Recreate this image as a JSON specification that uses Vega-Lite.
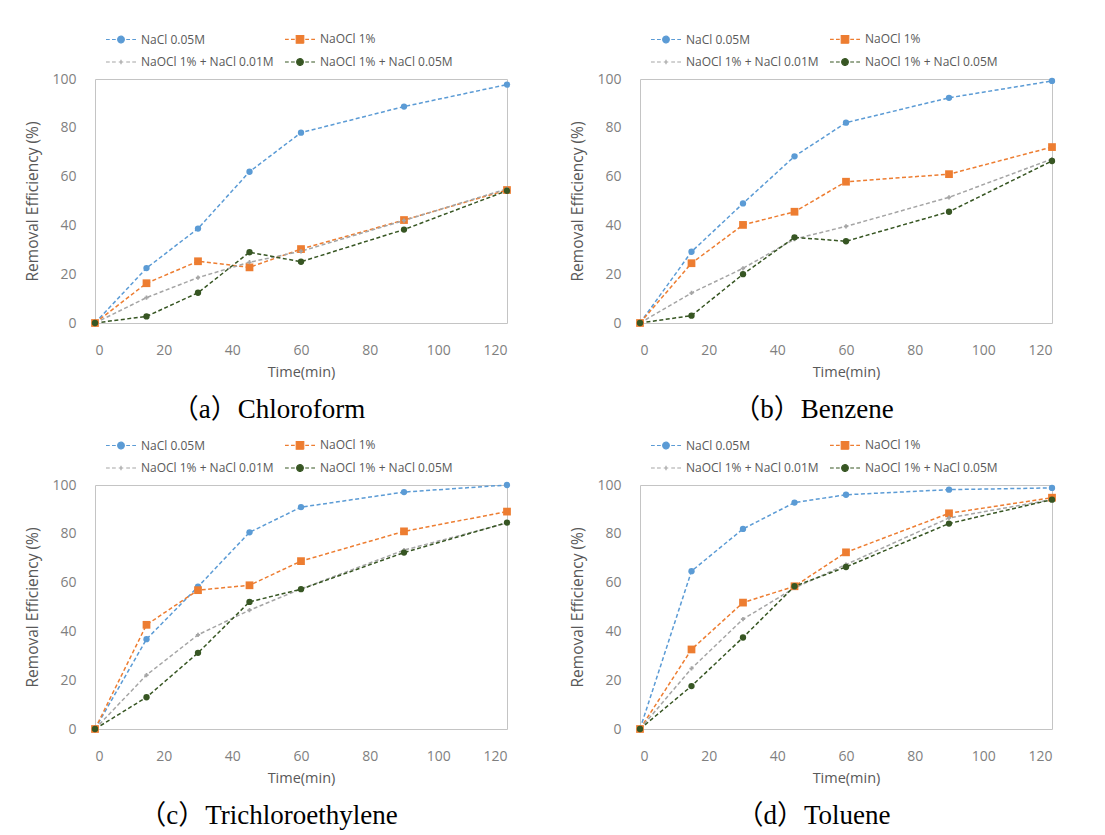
{
  "$schema": "https://vega.github.io/schema/vega-lite/v6.json",
  "padding": {"left": 25, "top": 22, "right": 5, "bottom": 5},
  "background": "white",
  "data": {"values": [
    {"p":"a","s":"NaCl 0.05M","t":0,"v":0},{"p":"a","s":"NaCl 0.05M","t":15,"v":22.5},{"p":"a","s":"NaCl 0.05M","t":30,"v":38.7},{"p":"a","s":"NaCl 0.05M","t":45,"v":62},{"p":"a","s":"NaCl 0.05M","t":60,"v":78},{"p":"a","s":"NaCl 0.05M","t":90,"v":88.7},{"p":"a","s":"NaCl 0.05M","t":120,"v":97.7},
    {"p":"a","s":"NaOCl 1%","t":0,"v":0},{"p":"a","s":"NaOCl 1%","t":15,"v":16.3},{"p":"a","s":"NaOCl 1%","t":30,"v":25.3},{"p":"a","s":"NaOCl 1%","t":45,"v":22.8},{"p":"a","s":"NaOCl 1%","t":60,"v":30.3},{"p":"a","s":"NaOCl 1%","t":90,"v":42.2},{"p":"a","s":"NaOCl 1%","t":120,"v":54.5},
    {"p":"a","s":"NaOCl 1% + NaCl 0.01M","t":0,"v":0},{"p":"a","s":"NaOCl 1% + NaCl 0.01M","t":15,"v":10.4},{"p":"a","s":"NaOCl 1% + NaCl 0.01M","t":30,"v":18.6},{"p":"a","s":"NaOCl 1% + NaCl 0.01M","t":45,"v":24.9},{"p":"a","s":"NaOCl 1% + NaCl 0.01M","t":60,"v":29.4},{"p":"a","s":"NaOCl 1% + NaCl 0.01M","t":90,"v":42},{"p":"a","s":"NaOCl 1% + NaCl 0.01M","t":120,"v":55},
    {"p":"a","s":"NaOCl 1% + NaCl 0.05M","t":0,"v":0},{"p":"a","s":"NaOCl 1% + NaCl 0.05M","t":15,"v":2.7},{"p":"a","s":"NaOCl 1% + NaCl 0.05M","t":30,"v":12.4},{"p":"a","s":"NaOCl 1% + NaCl 0.05M","t":45,"v":29},{"p":"a","s":"NaOCl 1% + NaCl 0.05M","t":60,"v":25.1},{"p":"a","s":"NaOCl 1% + NaCl 0.05M","t":90,"v":38.3},{"p":"a","s":"NaOCl 1% + NaCl 0.05M","t":120,"v":54.2},
    {"p":"b","s":"NaCl 0.05M","t":0,"v":0},{"p":"b","s":"NaCl 0.05M","t":15,"v":29.2},{"p":"b","s":"NaCl 0.05M","t":30,"v":49},{"p":"b","s":"NaCl 0.05M","t":45,"v":68.3},{"p":"b","s":"NaCl 0.05M","t":60,"v":82.1},{"p":"b","s":"NaCl 0.05M","t":90,"v":92.3},{"p":"b","s":"NaCl 0.05M","t":120,"v":99.2},
    {"p":"b","s":"NaOCl 1%","t":0,"v":0},{"p":"b","s":"NaOCl 1%","t":15,"v":24.5},{"p":"b","s":"NaOCl 1%","t":30,"v":40.2},{"p":"b","s":"NaOCl 1%","t":45,"v":45.6},{"p":"b","s":"NaOCl 1%","t":60,"v":57.9},{"p":"b","s":"NaOCl 1%","t":90,"v":61},{"p":"b","s":"NaOCl 1%","t":120,"v":72.1},
    {"p":"b","s":"NaOCl 1% + NaCl 0.01M","t":0,"v":0},{"p":"b","s":"NaOCl 1% + NaCl 0.01M","t":15,"v":12.3},{"p":"b","s":"NaOCl 1% + NaCl 0.01M","t":30,"v":22.4},{"p":"b","s":"NaOCl 1% + NaCl 0.01M","t":45,"v":34.4},{"p":"b","s":"NaOCl 1% + NaCl 0.01M","t":60,"v":39.6},{"p":"b","s":"NaOCl 1% + NaCl 0.01M","t":90,"v":51.5},{"p":"b","s":"NaOCl 1% + NaCl 0.01M","t":120,"v":67.2},
    {"p":"b","s":"NaOCl 1% + NaCl 0.05M","t":0,"v":0},{"p":"b","s":"NaOCl 1% + NaCl 0.05M","t":15,"v":3},{"p":"b","s":"NaOCl 1% + NaCl 0.05M","t":30,"v":20},{"p":"b","s":"NaOCl 1% + NaCl 0.05M","t":45,"v":35.1},{"p":"b","s":"NaOCl 1% + NaCl 0.05M","t":60,"v":33.5},{"p":"b","s":"NaOCl 1% + NaCl 0.05M","t":90,"v":45.6},{"p":"b","s":"NaOCl 1% + NaCl 0.05M","t":120,"v":66.4},
    {"p":"c","s":"NaCl 0.05M","t":0,"v":0},{"p":"c","s":"NaCl 0.05M","t":15,"v":36.8},{"p":"c","s":"NaCl 0.05M","t":30,"v":58.3},{"p":"c","s":"NaCl 0.05M","t":45,"v":80.6},{"p":"c","s":"NaCl 0.05M","t":60,"v":90.9},{"p":"c","s":"NaCl 0.05M","t":90,"v":97.1},{"p":"c","s":"NaCl 0.05M","t":120,"v":100},
    {"p":"c","s":"NaOCl 1%","t":0,"v":0},{"p":"c","s":"NaOCl 1%","t":15,"v":42.7},{"p":"c","s":"NaOCl 1%","t":30,"v":56.9},{"p":"c","s":"NaOCl 1%","t":45,"v":58.9},{"p":"c","s":"NaOCl 1%","t":60,"v":68.8},{"p":"c","s":"NaOCl 1%","t":90,"v":81},{"p":"c","s":"NaOCl 1%","t":120,"v":89.1},
    {"p":"c","s":"NaOCl 1% + NaCl 0.01M","t":0,"v":0},{"p":"c","s":"NaOCl 1% + NaCl 0.01M","t":15,"v":22.1},{"p":"c","s":"NaOCl 1% + NaCl 0.01M","t":30,"v":38.6},{"p":"c","s":"NaOCl 1% + NaCl 0.01M","t":45,"v":48.7},{"p":"c","s":"NaOCl 1% + NaCl 0.01M","t":60,"v":57.4},{"p":"c","s":"NaOCl 1% + NaCl 0.01M","t":90,"v":73.3},{"p":"c","s":"NaOCl 1% + NaCl 0.01M","t":120,"v":84.4},
    {"p":"c","s":"NaOCl 1% + NaCl 0.05M","t":0,"v":0},{"p":"c","s":"NaOCl 1% + NaCl 0.05M","t":15,"v":13},{"p":"c","s":"NaOCl 1% + NaCl 0.05M","t":30,"v":31.2},{"p":"c","s":"NaOCl 1% + NaCl 0.05M","t":45,"v":52.1},{"p":"c","s":"NaOCl 1% + NaCl 0.05M","t":60,"v":57.3},{"p":"c","s":"NaOCl 1% + NaCl 0.05M","t":90,"v":72.3},{"p":"c","s":"NaOCl 1% + NaCl 0.05M","t":120,"v":84.6},
    {"p":"d","s":"NaCl 0.05M","t":0,"v":0},{"p":"d","s":"NaCl 0.05M","t":15,"v":64.7},{"p":"d","s":"NaCl 0.05M","t":30,"v":82},{"p":"d","s":"NaCl 0.05M","t":45,"v":92.8},{"p":"d","s":"NaCl 0.05M","t":60,"v":96},{"p":"d","s":"NaCl 0.05M","t":90,"v":98.1},{"p":"d","s":"NaCl 0.05M","t":120,"v":98.8},
    {"p":"d","s":"NaOCl 1%","t":0,"v":0},{"p":"d","s":"NaOCl 1%","t":15,"v":32.6},{"p":"d","s":"NaOCl 1%","t":30,"v":51.8},{"p":"d","s":"NaOCl 1%","t":45,"v":58.5},{"p":"d","s":"NaOCl 1%","t":60,"v":72.4},{"p":"d","s":"NaOCl 1%","t":90,"v":88.4},{"p":"d","s":"NaOCl 1%","t":120,"v":94.8},
    {"p":"d","s":"NaOCl 1% + NaCl 0.01M","t":0,"v":0},{"p":"d","s":"NaOCl 1% + NaCl 0.01M","t":15,"v":24.8},{"p":"d","s":"NaOCl 1% + NaCl 0.01M","t":30,"v":45},{"p":"d","s":"NaOCl 1% + NaCl 0.01M","t":45,"v":57.8},{"p":"d","s":"NaOCl 1% + NaCl 0.01M","t":60,"v":67.4},{"p":"d","s":"NaOCl 1% + NaCl 0.01M","t":90,"v":86.5},{"p":"d","s":"NaOCl 1% + NaCl 0.01M","t":120,"v":94},
    {"p":"d","s":"NaOCl 1% + NaCl 0.05M","t":0,"v":0},{"p":"d","s":"NaOCl 1% + NaCl 0.05M","t":15,"v":17.6},{"p":"d","s":"NaOCl 1% + NaCl 0.05M","t":30,"v":37.5},{"p":"d","s":"NaOCl 1% + NaCl 0.05M","t":45,"v":58.5},{"p":"d","s":"NaOCl 1% + NaCl 0.05M","t":60,"v":66.4},{"p":"d","s":"NaOCl 1% + NaCl 0.05M","t":90,"v":84.2},{"p":"d","s":"NaOCl 1% + NaCl 0.05M","t":120,"v":94}
  ]},
  "columns": 2,
  "bounds": "flush",
  "spacing": {"row": 162, "column": 133},
  "resolve": {"scale": {"color": "independent"}, "legend": {"color": "independent"}},
  "concat": [
    {
      "title": {"text": "（a）Chloroform"},
      "width": 412, "height": 244,
      "transform": [{"filter": "datum.p === 'a'"}],
      "encoding": {
        "x": {"field": "t", "type": "quantitative", "scale": {"domain": [0, 120]}, "axis": {"values": [0, 20, 40, 60, 80, 100, 120], "title": "Time(min)"}},
        "y": {"field": "v", "type": "quantitative", "scale": {"domain": [0, 100]}, "axis": {"values": [0, 20, 40, 60, 80, 100], "title": "Removal Efficiency (%)"}},
        "color": {"field": "s", "type": "nominal", "scale": {"domain": ["NaCl 0.05M", "NaOCl 1%", "NaOCl 1% + NaCl 0.01M", "NaOCl 1% + NaCl 0.05M"], "range": ["#5B9BD5", "#ED7D31", "#A5A5A5", "#375623"]},
          "legend": {"orient": "none", "direction": "horizontal", "legendX": 10, "legendY": -56, "columns": 2, "columnPadding": 8, "rowPadding": -8, "title": null, "symbolSize": 900, "labelOffset": 4, "labelFontSize": 12, "labelColor": "#595959", "labelFont": "Open Sans",
            "encoding": {"symbols": {
              "shape": {"value": {"expr": "datum.value === 'NaOCl 1%' ? 'M-1,0H-0.75M-0.6,0H-0.35M0.35,0H0.6M0.75,0H1M-0.25,-0.25H0.25V0.25H-0.25Z' : datum.value === 'NaOCl 1% + NaCl 0.01M' ? 'M-1,0H-0.75M-0.6,0H-0.35M0.35,0H0.6M0.75,0H1M-0.15,0H0.15M0,-0.15V0.15' : 'M-1,0H-0.75M-0.6,0H-0.35M0.35,0H0.6M0.75,0H1M-0.22,0A0.22,0.22 0 1,0 0.22,0A0.22,0.22 0 1,0 -0.22,0Z'"}},
              "stroke": {"value": {"expr": "datum.value === 'NaCl 0.05M' ? '#5B9BD5' : datum.value === 'NaOCl 1%' ? '#ED7D31' : datum.value === 'NaOCl 1% + NaCl 0.01M' ? '#A5A5A5' : '#375623'"}},
              "size": {"value": 900},
              "strokeWidth": {"value": 1.2}, "strokeDash": {"value": [1, 0]}, "opacity": {"value": 1}, "fillOpacity": {"value": 1}, "strokeOpacity": {"value": 1}}}}}
      },
      "layer": [
        {"mark": {"type": "line", "strokeDash": [4, 2.5], "strokeWidth": 1.5}},
        {"mark": {"type": "point", "filled": true, "opacity": 1},
          "encoding": {
            "shape": {"condition": [{"test": "datum.s === 'NaOCl 1%'", "value": "square"}, {"test": "datum.s === 'NaOCl 1% + NaCl 0.01M'", "value": "cross"}], "value": "circle"},
            "size": {"condition": [{"test": "datum.s === 'NaOCl 1%'", "value": 60}, {"test": "datum.s === 'NaOCl 1% + NaCl 0.01M'", "value": 18}], "value": 40}
          }}
      ]
    },
    {
      "title": {"text": "（b）Benzene"},
      "width": 412, "height": 244,
      "transform": [{"filter": "datum.p === 'b'"}],
      "encoding": {
        "x": {"field": "t", "type": "quantitative", "scale": {"domain": [0, 120]}, "axis": {"values": [0, 20, 40, 60, 80, 100, 120], "title": "Time(min)"}},
        "y": {"field": "v", "type": "quantitative", "scale": {"domain": [0, 100]}, "axis": {"values": [0, 20, 40, 60, 80, 100], "title": "Removal Efficiency (%)"}},
        "color": {"field": "s", "type": "nominal", "scale": {"domain": ["NaCl 0.05M", "NaOCl 1%", "NaOCl 1% + NaCl 0.01M", "NaOCl 1% + NaCl 0.05M"], "range": ["#5B9BD5", "#ED7D31", "#A5A5A5", "#375623"]},
          "legend": {"orient": "none", "direction": "horizontal", "legendX": 10, "legendY": -56, "columns": 2, "columnPadding": 8, "rowPadding": -8, "title": null, "symbolSize": 900, "labelOffset": 4, "labelFontSize": 12, "labelColor": "#595959", "labelFont": "Open Sans",
            "encoding": {"symbols": {
              "shape": {"value": {"expr": "datum.value === 'NaOCl 1%' ? 'M-1,0H-0.75M-0.6,0H-0.35M0.35,0H0.6M0.75,0H1M-0.25,-0.25H0.25V0.25H-0.25Z' : datum.value === 'NaOCl 1% + NaCl 0.01M' ? 'M-1,0H-0.75M-0.6,0H-0.35M0.35,0H0.6M0.75,0H1M-0.15,0H0.15M0,-0.15V0.15' : 'M-1,0H-0.75M-0.6,0H-0.35M0.35,0H0.6M0.75,0H1M-0.22,0A0.22,0.22 0 1,0 0.22,0A0.22,0.22 0 1,0 -0.22,0Z'"}},
              "stroke": {"value": {"expr": "datum.value === 'NaCl 0.05M' ? '#5B9BD5' : datum.value === 'NaOCl 1%' ? '#ED7D31' : datum.value === 'NaOCl 1% + NaCl 0.01M' ? '#A5A5A5' : '#375623'"}},
              "size": {"value": 900},
              "strokeWidth": {"value": 1.2}, "strokeDash": {"value": [1, 0]}, "opacity": {"value": 1}, "fillOpacity": {"value": 1}, "strokeOpacity": {"value": 1}}}}}
      },
      "layer": [
        {"mark": {"type": "line", "strokeDash": [4, 2.5], "strokeWidth": 1.5}},
        {"mark": {"type": "point", "filled": true, "opacity": 1},
          "encoding": {
            "shape": {"condition": [{"test": "datum.s === 'NaOCl 1%'", "value": "square"}, {"test": "datum.s === 'NaOCl 1% + NaCl 0.01M'", "value": "cross"}], "value": "circle"},
            "size": {"condition": [{"test": "datum.s === 'NaOCl 1%'", "value": 60}, {"test": "datum.s === 'NaOCl 1% + NaCl 0.01M'", "value": 18}], "value": 40}
          }}
      ]
    },
    {
      "title": {"text": "（c）Trichloroethylene"},
      "width": 412, "height": 244,
      "transform": [{"filter": "datum.p === 'c'"}],
      "encoding": {
        "x": {"field": "t", "type": "quantitative", "scale": {"domain": [0, 120]}, "axis": {"values": [0, 20, 40, 60, 80, 100, 120], "title": "Time(min)"}},
        "y": {"field": "v", "type": "quantitative", "scale": {"domain": [0, 100]}, "axis": {"values": [0, 20, 40, 60, 80, 100], "title": "Removal Efficiency (%)"}},
        "color": {"field": "s", "type": "nominal", "scale": {"domain": ["NaCl 0.05M", "NaOCl 1%", "NaOCl 1% + NaCl 0.01M", "NaOCl 1% + NaCl 0.05M"], "range": ["#5B9BD5", "#ED7D31", "#A5A5A5", "#375623"]},
          "legend": {"orient": "none", "direction": "horizontal", "legendX": 10, "legendY": -56, "columns": 2, "columnPadding": 8, "rowPadding": -8, "title": null, "symbolSize": 900, "labelOffset": 4, "labelFontSize": 12, "labelColor": "#595959", "labelFont": "Open Sans",
            "encoding": {"symbols": {
              "shape": {"value": {"expr": "datum.value === 'NaOCl 1%' ? 'M-1,0H-0.75M-0.6,0H-0.35M0.35,0H0.6M0.75,0H1M-0.25,-0.25H0.25V0.25H-0.25Z' : datum.value === 'NaOCl 1% + NaCl 0.01M' ? 'M-1,0H-0.75M-0.6,0H-0.35M0.35,0H0.6M0.75,0H1M-0.15,0H0.15M0,-0.15V0.15' : 'M-1,0H-0.75M-0.6,0H-0.35M0.35,0H0.6M0.75,0H1M-0.22,0A0.22,0.22 0 1,0 0.22,0A0.22,0.22 0 1,0 -0.22,0Z'"}},
              "stroke": {"value": {"expr": "datum.value === 'NaCl 0.05M' ? '#5B9BD5' : datum.value === 'NaOCl 1%' ? '#ED7D31' : datum.value === 'NaOCl 1% + NaCl 0.01M' ? '#A5A5A5' : '#375623'"}},
              "size": {"value": 900},
              "strokeWidth": {"value": 1.2}, "strokeDash": {"value": [1, 0]}, "opacity": {"value": 1}, "fillOpacity": {"value": 1}, "strokeOpacity": {"value": 1}}}}}
      },
      "layer": [
        {"mark": {"type": "line", "strokeDash": [4, 2.5], "strokeWidth": 1.5}},
        {"mark": {"type": "point", "filled": true, "opacity": 1},
          "encoding": {
            "shape": {"condition": [{"test": "datum.s === 'NaOCl 1%'", "value": "square"}, {"test": "datum.s === 'NaOCl 1% + NaCl 0.01M'", "value": "cross"}], "value": "circle"},
            "size": {"condition": [{"test": "datum.s === 'NaOCl 1%'", "value": 60}, {"test": "datum.s === 'NaOCl 1% + NaCl 0.01M'", "value": 18}], "value": 40}
          }}
      ]
    },
    {
      "title": {"text": "（d）Toluene"},
      "width": 412, "height": 244,
      "transform": [{"filter": "datum.p === 'd'"}],
      "encoding": {
        "x": {"field": "t", "type": "quantitative", "scale": {"domain": [0, 120]}, "axis": {"values": [0, 20, 40, 60, 80, 100, 120], "title": "Time(min)"}},
        "y": {"field": "v", "type": "quantitative", "scale": {"domain": [0, 100]}, "axis": {"values": [0, 20, 40, 60, 80, 100], "title": "Removal Efficiency (%)"}},
        "color": {"field": "s", "type": "nominal", "scale": {"domain": ["NaCl 0.05M", "NaOCl 1%", "NaOCl 1% + NaCl 0.01M", "NaOCl 1% + NaCl 0.05M"], "range": ["#5B9BD5", "#ED7D31", "#A5A5A5", "#375623"]},
          "legend": {"orient": "none", "direction": "horizontal", "legendX": 10, "legendY": -56, "columns": 2, "columnPadding": 8, "rowPadding": -8, "title": null, "symbolSize": 900, "labelOffset": 4, "labelFontSize": 12, "labelColor": "#595959", "labelFont": "Open Sans",
            "encoding": {"symbols": {
              "shape": {"value": {"expr": "datum.value === 'NaOCl 1%' ? 'M-1,0H-0.75M-0.6,0H-0.35M0.35,0H0.6M0.75,0H1M-0.25,-0.25H0.25V0.25H-0.25Z' : datum.value === 'NaOCl 1% + NaCl 0.01M' ? 'M-1,0H-0.75M-0.6,0H-0.35M0.35,0H0.6M0.75,0H1M-0.15,0H0.15M0,-0.15V0.15' : 'M-1,0H-0.75M-0.6,0H-0.35M0.35,0H0.6M0.75,0H1M-0.22,0A0.22,0.22 0 1,0 0.22,0A0.22,0.22 0 1,0 -0.22,0Z'"}},
              "stroke": {"value": {"expr": "datum.value === 'NaCl 0.05M' ? '#5B9BD5' : datum.value === 'NaOCl 1%' ? '#ED7D31' : datum.value === 'NaOCl 1% + NaCl 0.01M' ? '#A5A5A5' : '#375623'"}},
              "size": {"value": 900},
              "strokeWidth": {"value": 1.2}, "strokeDash": {"value": [1, 0]}, "opacity": {"value": 1}, "fillOpacity": {"value": 1}, "strokeOpacity": {"value": 1}}}}}
      },
      "layer": [
        {"mark": {"type": "line", "strokeDash": [4, 2.5], "strokeWidth": 1.5}},
        {"mark": {"type": "point", "filled": true, "opacity": 1},
          "encoding": {
            "shape": {"condition": [{"test": "datum.s === 'NaOCl 1%'", "value": "square"}, {"test": "datum.s === 'NaOCl 1% + NaCl 0.01M'", "value": "cross"}], "value": "circle"},
            "size": {"condition": [{"test": "datum.s === 'NaOCl 1%'", "value": 60}, {"test": "datum.s === 'NaOCl 1% + NaCl 0.01M'", "value": 18}], "value": 40}
          }}
      ]
    }
  ],
  "config": {
    "view": {"stroke": "#c4c4c4", "strokeWidth": 1},
    "axis": {"domain": false, "ticks": false, "grid": false, "labelFont": "Open Sans", "labelFontSize": 14, "labelColor": "#7f7f7f", "titleFont": "Open Sans", "titleFontWeight": "normal", "titleColor": "#595959"},
    "axisX": {"labelPadding": 20, "titlePadding": 8, "titleFontSize": 14.5},
    "axisY": {"labelPadding": 19, "titlePadding": 11, "titleFontSize": 15.5},
    "title": {"font": "Liberation Serif, Noto Sans CJK KR", "fontSize": 27, "fontWeight": "normal", "color": "#000000", "orient": "bottom", "frame": "bounds", "anchor": "middle", "offset": 18}
  }
}
